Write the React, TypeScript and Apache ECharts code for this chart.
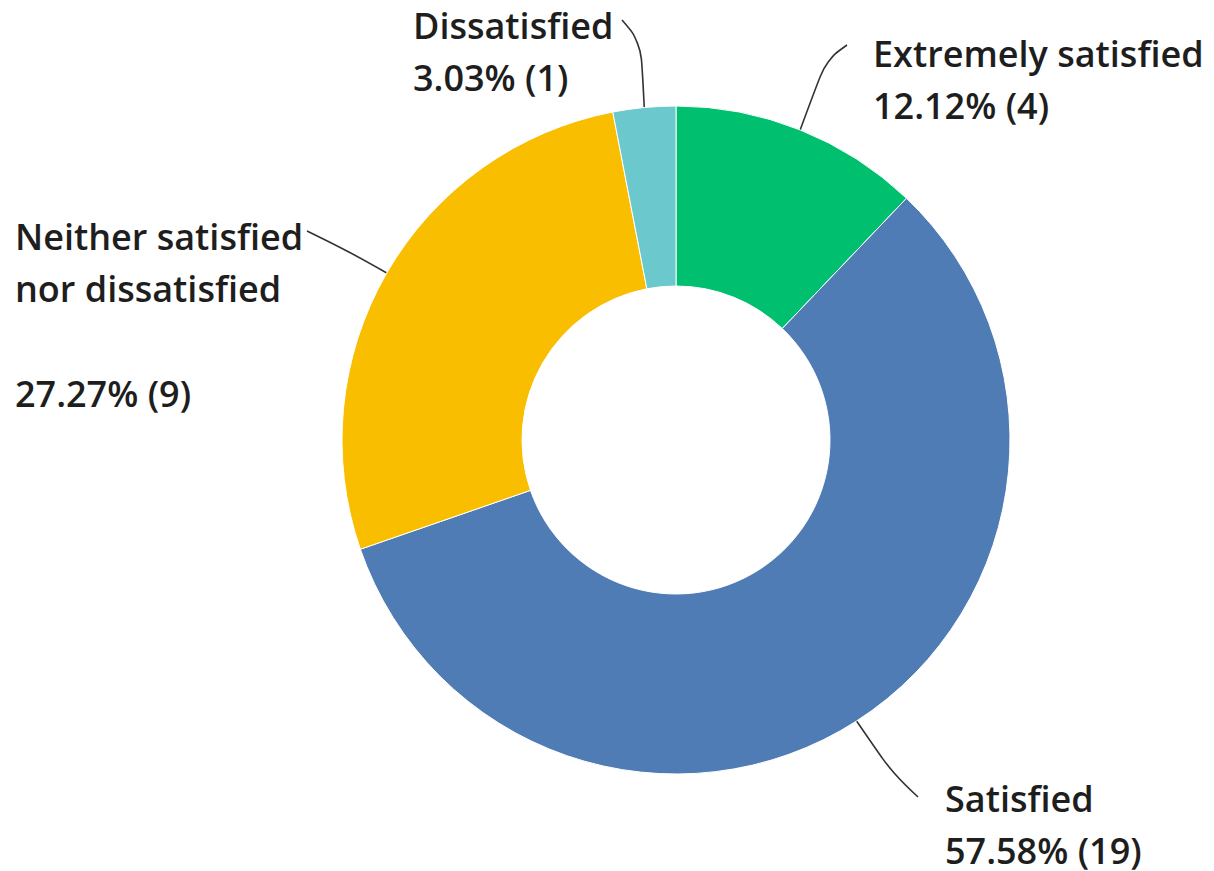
import React, { useEffect, useRef } from "react";
import * as echarts from "echarts";

const categories = [
  "Extremely satisfied",
  "Satisfied",
  "Neither satisfied\nnor dissatisfied\n",
  "Dissatisfied",
];
const counts = [4, 19, 9, 1];
const colors = ["#00BF6F", "#507CB6", "#F9BE00", "#6BC8CD"];

// label placement (layout only)
const labelPlacement = [
  { x: 873, y: 27, mid: [826, 60], end: [847, 45] },
  { x: 945, y: 772, mid: [893, 774], end: [918, 797] },
  { x: 15, y: 210, mid: [350, 252], end: [307, 231] },
  { x: 413, y: -1, mid: [641, 42], end: [622, 20] },
];

export default function App() {
  const ref = useRef<HTMLDivElement>(null);
  useEffect(() => {
    if (!ref.current) return;
    const chart = echarts.init(ref.current, null, { renderer: "svg" });
    chart.setOption({
      animation: false,
      backgroundColor: "#ffffff",
      series: [
        {
          type: "pie",
          center: [676, 440],
          radius: [154, 334],
          startAngle: 90,
          clockwise: true,
          percentPrecision: 2,
          avoidLabelOverlap: false,
          itemStyle: { borderColor: "#ffffff", borderWidth: 1 },
          data: categories.map((name, i) => ({
            name,
            value: counts[i],
            itemStyle: { color: colors[i] },
          })),
          label: {
            show: true,
            position: "outside",
            formatter: "{b}\n{d}% ({c})",
            fontFamily: "Open Sans",
            fontSize: 36,
            fontWeight: 600,
            lineHeight: 52.5,
            color: "#1e1e1e",
          },
          labelLine: {
            show: true,
            smooth: 0.4,
            lineStyle: { color: "#333333", width: 1.6 },
          },
          labelLayout: (params: any) => {
            const p = labelPlacement[params.dataIndex];
            const pts = params.labelLinePoints;
            const start = pts && pts[0] ? pts[0] : p.mid;
            return {
              x: p.x,
              y: p.y,
              align: "left",
              verticalAlign: "top",
              labelLinePoints: [start, p.mid, p.end],
            };
          },
        },
      ],
    });
    return () => chart.dispose();
  }, []);
  return (
    <div
      ref={ref}
      style={{ position: "fixed", left: 0, top: 0, width: 1214, height: 871 }}
    />
  );
}
